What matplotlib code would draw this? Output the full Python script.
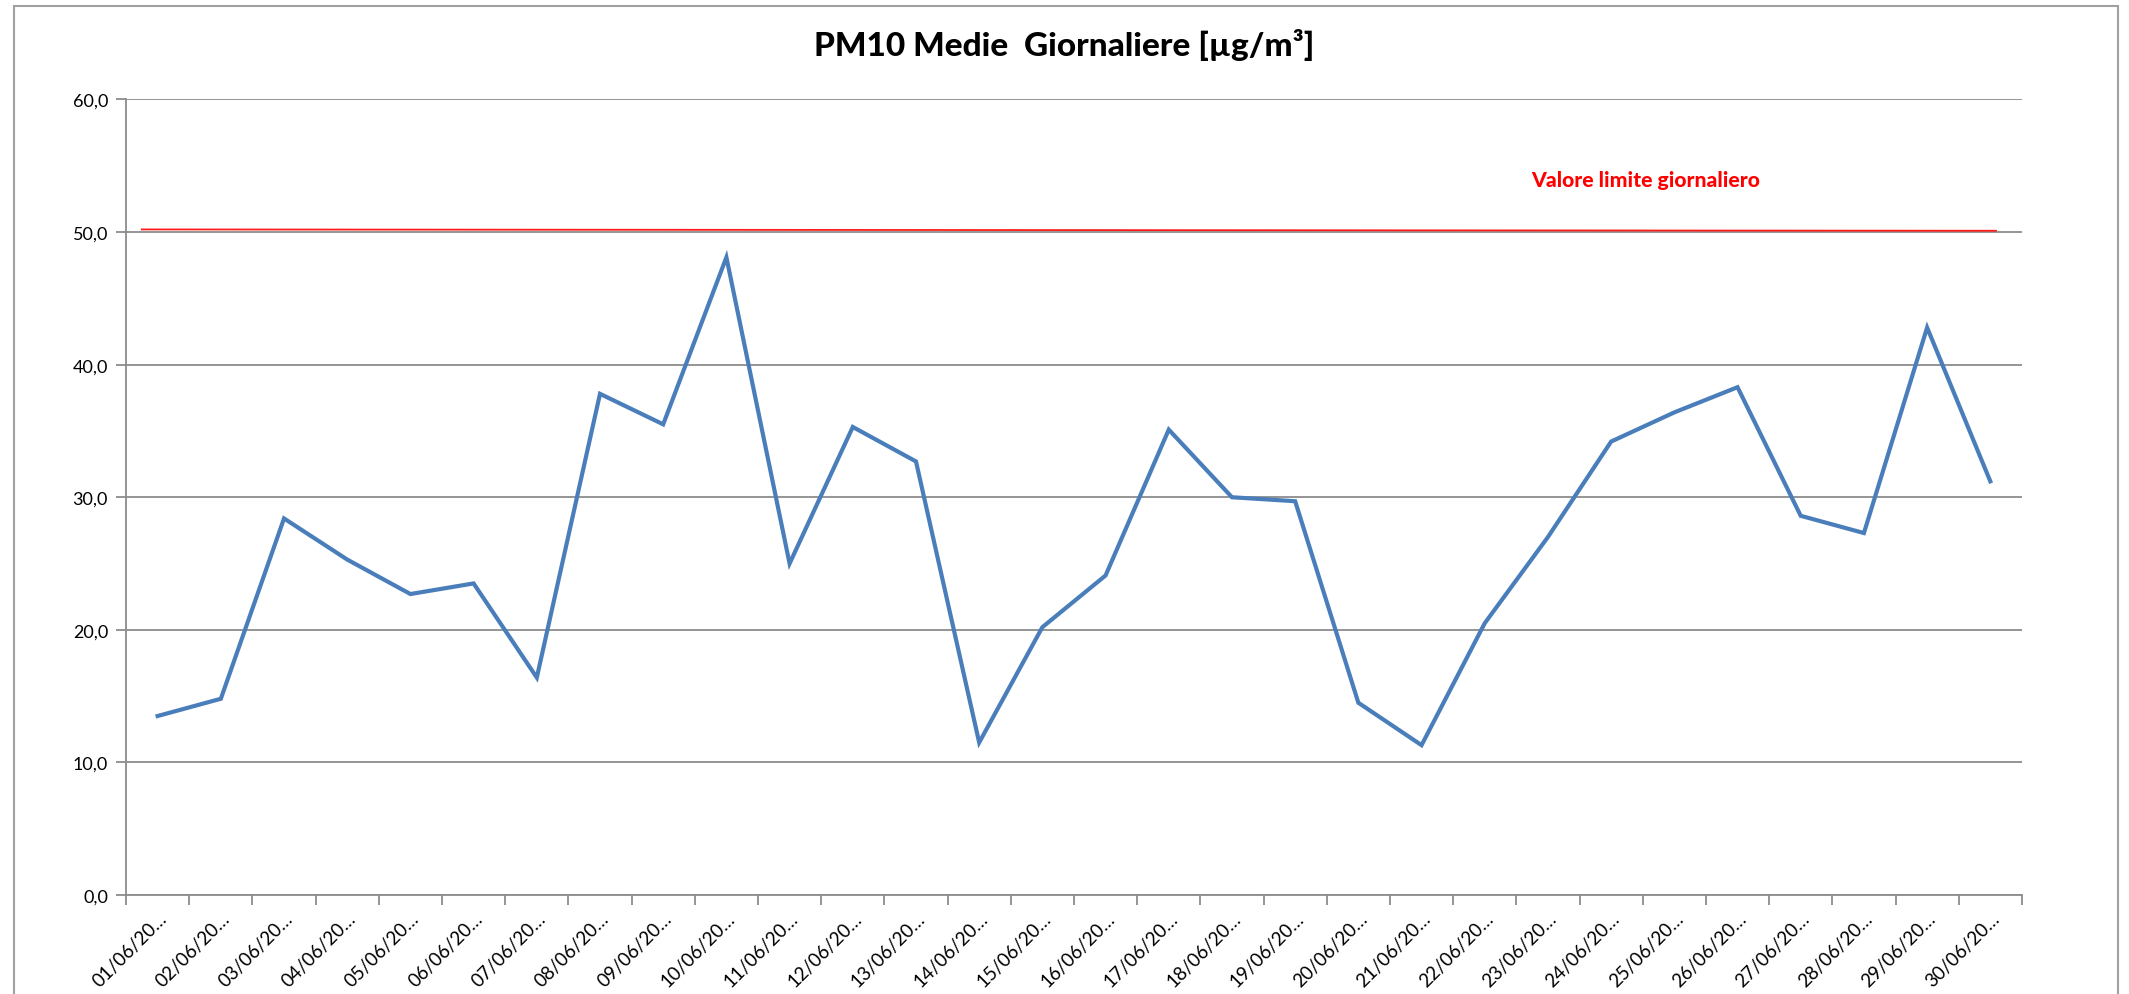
import matplotlib.pyplot as plt
from matplotlib.patches import Rectangle
import numpy as np

plt.rcParams['font.family'] = ['Lato', 'DejaVu Sans']

# dati
giorni = [f"{d:02d}/06/20…" for d in range(1, 31)]
pm10 = [13.5, 14.8, 28.4, 25.3, 22.7, 23.5, 16.4, 37.8, 35.5, 48.1,
        25.0, 35.3, 32.7, 11.5, 20.2, 24.1, 35.1, 30.0, 29.7, 14.5,
        11.3, 20.5, 27.0, 34.2, 36.4, 38.3, 28.6, 27.3, 42.8, 31.2]
valore_limite = 50
y_ticks = [0, 10, 20, 30, 40, 50, 60]

fig = plt.figure(figsize=(21.29, 9.95), dpi=100)
ax = fig.add_axes([0.0592, 0.0995, 0.8905, 0.7995])

grigio = '#8c8c8c'
x = np.arange(len(giorni))

ax.set_axisbelow(True)
ax.yaxis.grid(True, color=grigio, linewidth=1.3)
ax.plot(x, pm10, color='#4A7EBB', linewidth=3.0, solid_joinstyle='miter')
ax.plot([-0.25, 29.09], [valore_limite + 0.2, valore_limite + 0.1],
        color='#ff1a1a', linewidth=1.3)
ax.text(23.55, 54.0, 'Valore limite giornaliero', color='#ff0000',
        fontsize=15.2, fontweight='black', ha='center', va='center')

ax.set_xlim(-0.5, len(giorni) - 0.5)
ax.set_ylim(0, 60)
ax.set_yticks(y_ticks)
ax.set_yticklabels([f"{v:.1f}".replace('.', ',') for v in y_ticks], fontsize=13)
ax.set_xticks(x)
ax.set_xticklabels(giorni, rotation=45, ha='right', rotation_mode='anchor', fontsize=13.5)
ax.set_xticks(np.arange(-0.5, len(giorni)), minor=True)
ax.tick_params(axis='x', which='major', length=0, pad=10)
ax.tick_params(axis='x', which='minor', length=7, color=grigio, width=1.3)
ax.tick_params(axis='y', length=7, color=grigio, width=1.3, pad=6)

for s in ['top', 'right']:
    ax.spines[s].set_visible(False)
for s in ['left', 'bottom']:
    ax.spines[s].set_color(grigio)
    ax.spines[s].set_linewidth(1.3)

fig.text(0.5, 0.955, 'PM10 Medie  Giornaliere [µg/m³]', ha='center', va='center',
         fontsize=24, fontweight='black')

# cornice esterna
fig.patches.append(Rectangle((14 / 2129, -0.05), (2118 - 14) / 2129, 1.05 - 7 / 995,
                             transform=fig.transFigure, fill=False,
                             edgecolor='#a0a0a0', linewidth=1.5))

fig.savefig('out.png', dpi=100)
